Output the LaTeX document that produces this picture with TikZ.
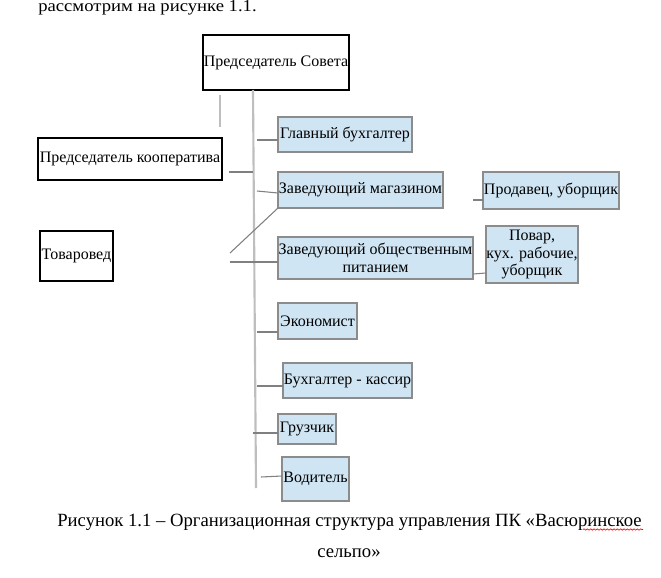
\documentclass[tikz,border=0pt]{standalone}
\usepackage{fontspec}
\setmainfont{Liberation Serif}
\newfontfamily\topfont[FakeStretch=1.12]{Liberation Serif}
\usetikzlibrary{calc,decorations.pathmorphing}
\newdimen\pxu \pxu=0.75pt
\definecolor{boxblue}{RGB}{207,229,243}
\definecolor{boxedge}{RGB}{140,140,140}
\definecolor{trunkgray}{RGB}{190,190,190}
\definecolor{linkgray}{RGB}{128,128,128}
\tikzset{
  base/.style={inner sep=0pt, outer sep=0pt, align=center, font=\fontsize{12}{13.4}\selectfont},
  wbox/.style={base, draw=black, line width=0.8pt, fill=white},
  bbox/.style={base, draw=boxedge, line width=0.8pt, fill=boxblue},
  link/.style={draw=linkgray, line width=0.8pt},
  trunk/.style={draw=trunkgray, line width=1.6pt},
  caption/.style={inner sep=0pt, font=\fontsize{14}{16}\selectfont}
}
\begin{document}
\begin{tikzpicture}[x=0.75pt,y=-0.75pt]
\useasboundingbox (0,0) rectangle (661,578);
% top text
\node[inner sep=0pt, anchor=base west, font=\topfont\fontsize{12.5}{14}\selectfont] (toptext) at (38,12) {рассмотрим на рисунке 1.1.};
% boxes
\node[wbox, minimum width=146\pxu, minimum height=55\pxu] (sovet) at (276,62.5) {Председатель Совета};
\node[wbox, minimum width=184\pxu, minimum height=42\pxu] (pk) at (130,159) {Председатель кооператива};
\node[wbox, minimum width=73\pxu, minimum height=50\pxu] (tov) at (76.5,256) {Товаровед};
\node[bbox, minimum width=134\pxu, minimum height=35\pxu] (gb) at (345,134.5) {Главный бухгалтер};
\node[bbox, minimum width=165\pxu, minimum height=36\pxu] (zm) at (360.5,190) {Заведующий магазином};
\node[bbox, minimum width=136\pxu, minimum height=37\pxu] (pu) at (551,190.5) {Продавец, уборщик};
\node[bbox, minimum width=195\pxu, minimum height=42\pxu] (zop) at (375.5,258) {Заведующий общественным\\питанием};
\node[bbox, minimum width=92\pxu, minimum height=57\pxu] (povar) at (532,254.5) {Повар,\\кух. рабочие,\\уборщик};
\node[bbox, minimum width=79\pxu, minimum height=36\pxu] (ek) at (317.5,321) {Экономист};
\node[bbox, minimum width=129\pxu, minimum height=35\pxu] (bk) at (347.5,380.5) {Бухгалтер - кассир};
\node[bbox, minimum width=58\pxu, minimum height=30\pxu] (gr) at (307,429) {Грузчик};
\node[bbox, minimum width=67\pxu, minimum height=44\pxu] (vod) at (315.5,479) {Водитель};
% free-end coordinates
\coordinate (trunkTop) at (253,90);
\coordinate (trunkBot) at (256,488);
\coordinate (s1) at (220,95);
\coordinate (s2) at (220,127);
\coordinate (pk1) at (229,172);
\coordinate (pk2) at (253,172);
\coordinate (g1) at (257,140);
\coordinate (z1) at (257,191);
\coordinate (p1) at (473,200);
\coordinate (d1) at (230,253);
\coordinate (o1) at (230,262);
\coordinate (e1) at (257,332);
\coordinate (b1) at (257,386);
\coordinate (r1) at (253,433);
\coordinate (v1) at (261,477);
% connectors
\draw[trunk] (trunkTop) -- (trunkBot);
\draw[link, draw=trunkgray, line width=1.4pt] (s1) -- (s2);
\draw[link] (pk1) -- (pk2);
\draw[link] (g1) -- (g1 -| gb.west);
\draw[link] (z1) -- ($(zm.west)+(0,3)$);
\draw[link] (p1) -- (p1 -| pu.west);
\draw[link] (zm.south west) -- (d1);
\draw[link] (o1) -- (o1 -| zop.west);
\draw[link] ($(zop.east)+(0,16)$) -- ($(povar.west)+(0,18.5)$);
\draw[link] (e1) -- (e1 -| ek.west);
\draw[link] (b1) -- (b1 -| bk.west);
\draw[link] (r1) -- (r1 -| gr.west);
\draw[link] (v1) -- ($(vod.west)+(0,-3)$);
% caption
\node[caption] (cap1) at (349.5,522) {Рисунок 1.1 – Организационная структура управления ПК «Васюринское};
\node[caption] (cap2) at (349,553) {сельпо»};
\draw[red, line width=0.5pt, decorate, decoration={snake, amplitude=0.5pt, segment length=2.5pt}] (583,529.5) -- (643,529.5);
\end{tikzpicture}
\end{document}
